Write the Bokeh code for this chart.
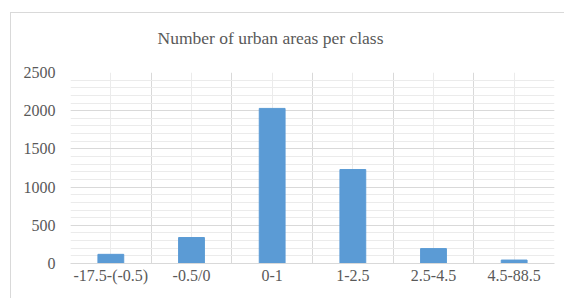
from bokeh.plotting import figure
from bokeh.models import FixedTicker, SingleIntervalTicker, ColumnDataSource
from bokeh.embed import file_html
from bokeh.resources import INLINE

categories = ["-17.5-(-0.5)", "-0.5/0", "0-1", "1-2.5", "2.5-4.5", "4.5-88.5"]
counts = [120, 340, 2030, 1230, 195, 45]
title_text = "Number  of urban areas per class"

positions = list(range(len(categories)))
src = ColumnDataSource(dict(x=positions, top=counts))

p = figure(width=564, height=298, output_backend="svg", toolbar_location=None,
           x_range=(-0.5, len(categories) - 0.5), y_range=(0, 2500),
           min_border_left=70, min_border_right=10, min_border_top=72, min_border_bottom=35,
           title=title_text)

p.vbar(x="x", top="top", width=0.32, source=src, color="#5B9BD5")

p.border_fill_color = None
p.background_fill_color = "white"
p.outline_line_color = None
p.styles = {"box-shadow": "inset 10px 12px 0 0 white, inset 11px 13px 0 0 #d9d9d9"}

p.title.align = "left"
p.title.offset = 87
p.title.text_font = "Liberation Serif"
p.title.text_font_size = "17.5px"
p.title.text_font_style = "normal"
p.title.text_color = "#595959"
p.title.standoff = 50

# x axis
p.xaxis.ticker = FixedTicker(ticks=positions)
p.xaxis.major_label_overrides = {i: c for i, c in enumerate(categories)}
p.xaxis.major_tick_line_color = None
p.xaxis.major_tick_out = 0
p.xaxis.minor_tick_line_color = None
p.xaxis.minor_tick_out = 0
p.xaxis.axis_line_color = "#d9d9d9"
p.xaxis.major_label_text_font = "Liberation Serif"
p.xaxis.major_label_text_font_size = "16px"
p.xaxis.major_label_text_color = "#595959"
p.xaxis.major_label_standoff = 3

# y axis
p.yaxis.ticker = SingleIntervalTicker(interval=500, num_minor_ticks=5)
p.yaxis.axis_line_color = None
p.yaxis.major_tick_line_color = None
p.yaxis.major_tick_out = 0
p.yaxis.minor_tick_line_color = None
p.yaxis.minor_tick_out = 0
p.yaxis.major_label_text_font = "Liberation Serif"
p.yaxis.major_label_text_font_size = "16px"
p.yaxis.major_label_text_color = "#595959"
p.yaxis.major_label_standoff = 15

# grids
p.ygrid.grid_line_color = "#d9d9d9"
p.ygrid.minor_grid_line_color = "#ebebeb"
boundaries = [i - 0.5 for i in range(len(categories) + 1)]
p.xgrid.ticker = FixedTicker(ticks=boundaries, minor_ticks=positions)
p.xgrid.grid_line_color = "#d9d9d9"
p.xgrid.minor_grid_line_color = "#ebebeb"
p.xgrid.level = "underlay"
p.ygrid.level = "underlay"

open("out.html", "w").write(file_html(p, INLINE))
